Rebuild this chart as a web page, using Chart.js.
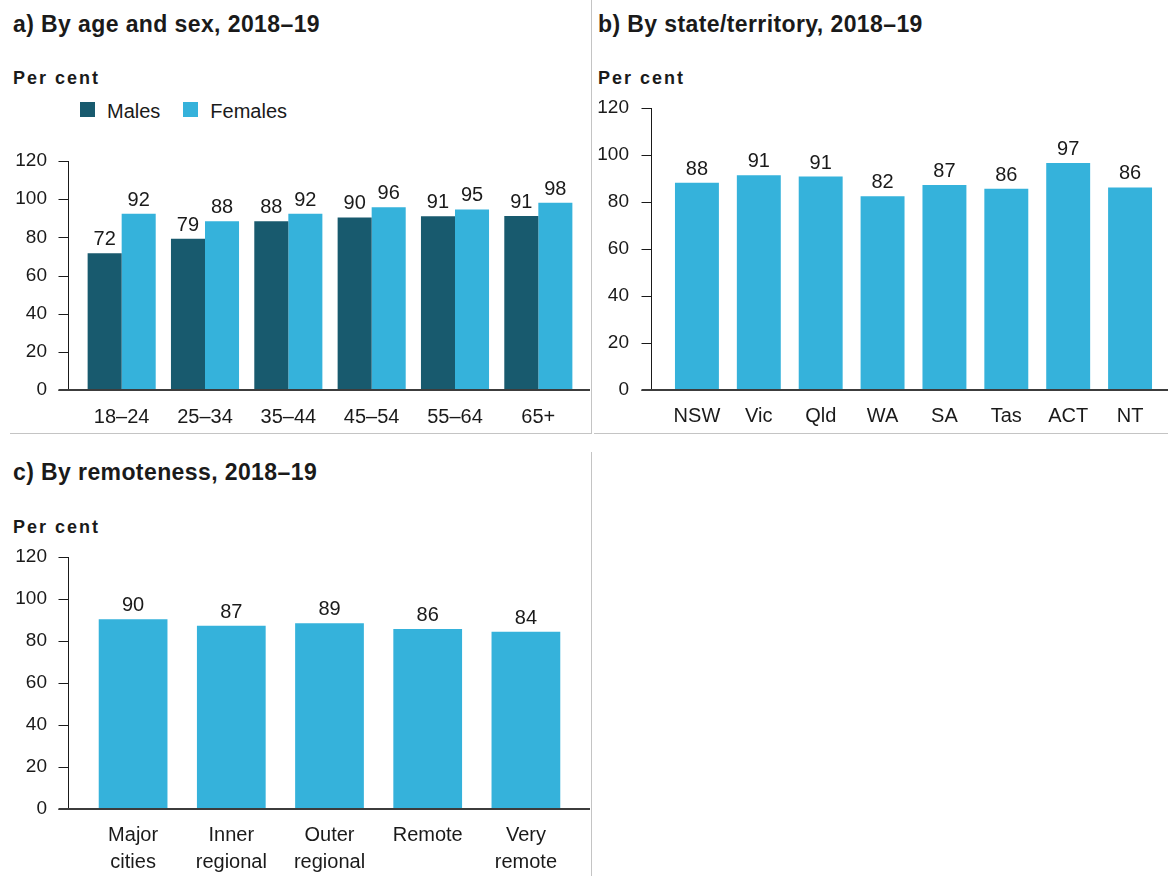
<!DOCTYPE html>
<html><head><meta charset="utf-8">
<script src="https://cdn.jsdelivr.net/npm/chart.js@4.4.1/dist/chart.umd.min.js"></script>
<style>
html,body{margin:0;padding:0;background:#fff;}
#page{position:relative;width:1168px;height:876px;overflow:hidden;font-family:'Liberation Sans',Arial,sans-serif;color:#1a1a1a;}
.title{position:absolute;font-weight:bold;font-size:23px;line-height:23px;letter-spacing:0.4px;white-space:nowrap;}
.unit{position:absolute;font-weight:bold;font-size:18px;line-height:18px;letter-spacing:2px;white-space:nowrap;}
canvas{position:absolute;}
.rule{position:absolute;background:#c4c4c4;}
#legendA{position:absolute;left:80px;top:101px;display:flex;align-items:flex-start;font-size:20px;line-height:20px;white-space:nowrap;}
#legendA .item{display:flex;align-items:flex-start;margin-right:23px;}
#legendA .sw{width:15px;height:15px;margin-top:1px;margin-right:12px;}
</style>
</head>
<body>
<div id="page">
  <div class="title" style="left:13px;top:13px;">a) By age and sex, 2018–19</div>
  <div class="unit" style="left:13px;top:69px;">Per cent</div>
  <div id="legendA"></div>
  <canvas id="chartA" width="591" height="309" style="left:0;top:140px;"></canvas>

  <div class="title" style="left:598px;top:13px;">b) By state/territory, 2018–19</div>
  <div class="unit" style="left:598px;top:69px;">Per cent</div>
  <canvas id="chartB" width="576" height="360" style="left:592px;top:88px;"></canvas>

  <div class="title" style="left:13px;top:461px;">c) By remoteness, 2018–19</div>
  <div class="unit" style="left:13px;top:518px;">Per cent</div>
  <canvas id="chartC" width="591" height="354" style="left:0;top:536px;"></canvas>

  <div class="rule" style="left:591px;top:0;width:1px;height:434px;"></div>
  <div class="rule" style="left:591px;top:452px;width:1px;height:424px;"></div>
  <div class="rule" style="left:10px;top:433px;width:581px;height:1px;"></div>
  <div class="rule" style="left:594px;top:433px;width:574px;height:1px;"></div>
</div>
<script>
// ---- data ----
const yTicks = [0, 20, 40, 60, 80, 100, 120];

const ageGroups = ['18–24', '25–34', '35–44', '45–54', '55–64', '65+'];
const seriesNames = ['Males', 'Females'];
const males = [71.6, 79.2, 88.4, 90.4, 91.1, 91.2];
const females = [92.4, 88.4, 92.4, 95.8, 94.6, 98.1];

const states = ['NSW', 'Vic', 'Qld', 'WA', 'SA', 'Tas', 'ACT', 'NT'];
const stateValues = [88.2, 91.4, 90.8, 82.4, 87.2, 85.6, 96.6, 86.2];

const remoteness = [['Major', 'cities'], ['Inner', 'regional'], ['Outer', 'regional'], 'Remote', ['Very', 'remote']];
const remotenessValues = [90.3, 87.3, 88.5, 85.7, 84.4];

// ---- styles ----
const DARK = '#185a6e';
const LIGHT = '#35b2db';
const TEXT = '#1a1a1a';
const FONT = "'Liberation Sans', Arial, sans-serif";
Chart.defaults.font.family = FONT;
Chart.defaults.color = TEXT;

// legend (HTML) from series
const legendEl = document.getElementById('legendA');
[DARK, LIGHT].forEach((c, i) => {
  const item = document.createElement('div');
  item.className = 'item';
  const sw = document.createElement('span');
  sw.className = 'sw';
  sw.style.background = c;
  const tx = document.createElement('span');
  tx.textContent = seriesNames[i];
  item.appendChild(sw); item.appendChild(tx);
  legendEl.appendChild(item);
});

const axisLines = {
  id: 'axisLines',
  afterDraw(chart, args, o) {
    const {ctx, chartArea} = chart;
    const y = chart.scales.y;
    const ax = Math.round(chartArea.left - o.gap) + 0.5;
    const yTop = y.getPixelForValue(yTicks[yTicks.length - 1]);
    const y0 = y.getPixelForValue(0);
    ctx.save();
    ctx.strokeStyle = '#1a1a1a';
    ctx.lineWidth = 1;
    ctx.beginPath();
    ctx.moveTo(ax, yTop);
    ctx.lineTo(ax, y0);
    y.ticks.forEach(t => {
      const py = Math.round(y.getPixelForValue(t.value)) + 0.5;
      ctx.moveTo(ax - o.tick, py);
      ctx.lineTo(ax, py);
    });
    ctx.stroke();
    ctx.strokeStyle = '#3c3c3c';
    ctx.lineWidth = 2;
    ctx.beginPath();
    ctx.moveTo(ax - o.tick, Math.round(y0));
    ctx.lineTo(chart.width - o.rightInset, Math.round(y0));
    ctx.stroke();
    ctx.restore();
  }
};

const valueLabels = {
  id: 'valueLabels',
  afterDatasetsDraw(chart, args, o) {
    const ctx = chart.ctx;
    ctx.save();
    ctx.font = '20px ' + FONT;
    ctx.fillStyle = TEXT;
    ctx.textAlign = 'center';
    ctx.textBaseline = 'alphabetic';
    chart.data.datasets.forEach((ds, i) => {
      chart.getDatasetMeta(i).data.forEach((bar, j) => {
        ctx.fillText(String(Math.round(ds.data[j])), bar.x, bar.y - o.offset);
      });
    });
    ctx.restore();
  }
};

function makeOptions(p) {
  return {
    responsive: false,
    animation: false,
    devicePixelRatio: 1,
    events: [],
    layout: { padding: p.padding },
    plugins: {
      legend: { display: false },
      tooltip: { enabled: false },
      axisLines: { gap: p.gap, tick: 10, rightInset: p.rightInset },
      valueLabels: { offset: 8 }
    },
    scales: {
      x: {
        grid: { display: false, drawTicks: false },
        border: { display: false },
        ticks: { padding: p.xPad, color: TEXT, font: { size: 20, lineHeight: p.xLineHeight }, maxRotation: 0, autoSkip: false }
      },
      y: {
        min: 0,
        max: yTicks[yTicks.length - 1],
        afterBuildTicks: s => { s.ticks = yTicks.map(v => ({ value: v })); },
        afterFit: s => { s.width = p.yWidth; },
        grid: { display: false, drawTicks: true, tickLength: p.yPad },
        border: { display: false },
        ticks: { padding: 0, color: TEXT, font: { size: 19 } }
      }
    }
  };
}

new Chart(document.getElementById('chartA'), {
  type: 'bar',
  data: {
    labels: ageGroups,
    datasets: [
      { label: seriesNames[0], data: males, backgroundColor: DARK, categoryPercentage: 0.817, barPercentage: 1.0 },
      { label: seriesNames[1], data: females, backgroundColor: LIGHT, categoryPercentage: 0.817, barPercentage: 1.0 }
    ]
  },
  options: makeOptions({ padding: { top: 21, right: 11, bottom: 5, left: 0 }, yWidth: 80, yPad: 33, xPad: 15, xLineHeight: 1.2, gap: 12, rightInset: 1 }),
  plugins: [axisLines, valueLabels]
});

new Chart(document.getElementById('chartB'), {
  type: 'bar',
  data: {
    labels: states,
    datasets: [
      { label: 'Per cent', data: stateValues, backgroundColor: LIGHT, categoryPercentage: 0.71, barPercentage: 1.0 }
    ]
  },
  options: makeOptions({ padding: { top: 20, right: 7, bottom: 6, left: 0 }, yWidth: 74, yPad: 37, xPad: 14, xLineHeight: 1.2, gap: 15, rightInset: 0 }),
  plugins: [axisLines, valueLabels]
});

new Chart(document.getElementById('chartC'), {
  type: 'bar',
  data: {
    labels: remoteness,
    datasets: [
      { label: 'Per cent', data: remotenessValues, backgroundColor: LIGHT, categoryPercentage: 0.70, barPercentage: 1.0 }
    ]
  },
  options: makeOptions({ padding: { top: 21, right: 16, bottom: 1, left: 0 }, yWidth: 84, yPad: 37, xPad: 13, xLineHeight: 1.35, gap: 16, rightInset: 1 }),
  plugins: [axisLines, valueLabels]
});
</script>
</body></html>
